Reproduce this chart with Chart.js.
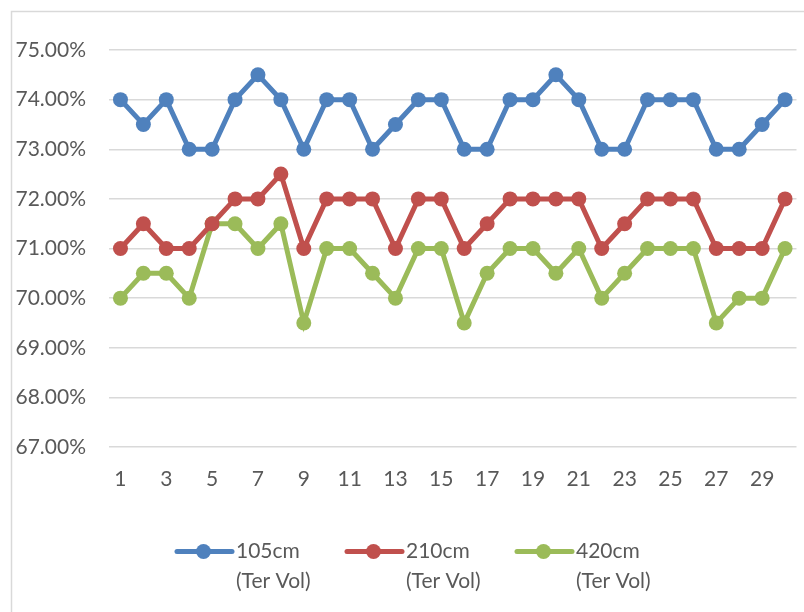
<!DOCTYPE html>
<html>
<head>
<meta charset="utf-8">
<title>Ter Vol</title>
<script src="https://cdn.jsdelivr.net/npm/chart.js@4/dist/chart.umd.min.js"></script>
<style>
  html, body { margin: 0; padding: 0; background: #fff; }
  canvas { display: block; }
</style>
</head>
<body>
<canvas id="terVolChart" width="804" height="612"></canvas>
<script>
// Meetpunten 1..30
const days = Array.from({ length: 30 }, (_, i) => String(i + 1));

// Waarden in procenten
const vol105 = [74, 73.5, 74, 73, 73, 74, 74.5, 74, 73, 74, 74, 73, 73.5, 74, 74,
                73, 73, 74, 74, 74.5, 74, 73, 73, 74, 74, 74, 73, 73, 73.5, 74];
const vol210 = [71, 71.5, 71, 71, 71.5, 72, 72, 72.5, 71, 72, 72, 72, 71, 72, 72,
                71, 71.5, 72, 72, 72, 72, 71, 71.5, 72, 72, 72, 71, 71, 71, 72];
const vol420 = [70, 70.5, 70.5, 70, 71.5, 71.5, 71, 71.5, 69.5, 71, 71, 70.5, 70, 71, 71,
                69.5, 70.5, 71, 71, 70.5, 71, 70, 70.5, 71, 71, 71, 69.5, 70, 70, 71];

const seriesNames = [['105cm', '(Ter Vol)'], ['210cm', '(Ter Vol)'], ['420cm', '(Ter Vol)']];
const seriesColors = ['#4f81bd', '#c0504d', '#9bbb59'];

const FONT = 'Lato, "Open Sans", sans-serif';
const FONT_SIZE = 21;
const TEXT_COLOR = '#595959';
const GRID_COLOR = '#d9d9d9';

// Lijst met rand rond het grafiekgebied (zoals in Excel)
const framePlugin = {
    id: 'frame',
    beforeDraw(chart) {
        const ctx = chart.ctx;
        ctx.save();
        ctx.strokeStyle = GRID_COLOR;
        ctx.lineWidth = 1.5;
        ctx.strokeRect(11.5, 11.5, 1000, 1000);
        ctx.restore();
    }
};

// Eigen legenda: lijn met punt, tekst over twee regels
const legendPlugin = {
    id: 'lineLegend',
    afterDraw(chart) {
        const ctx = chart.ctx;
        const startX = [175, 345, 515];
        const y = 551.5;
        ctx.save();
        chart.data.datasets.forEach((ds, i) => {
            const x = startX[i];
            ctx.strokeStyle = ds.borderColor;
            ctx.lineWidth = 5;
            ctx.lineCap = 'round';
            ctx.beginPath();
            ctx.moveTo(x + 2, y);
            ctx.lineTo(x + 57, y);
            ctx.stroke();
            ctx.fillStyle = ds.borderColor;
            ctx.beginPath();
            ctx.arc(x + 28.5, y, 7.5, 0, Math.PI * 2);
            ctx.fill();

            ctx.fillStyle = TEXT_COLOR;
            ctx.font = FONT_SIZE + 'px ' + FONT;
            ctx.textBaseline = 'middle';
            ctx.textAlign = 'left';
            ds.label.forEach((line, j) => ctx.fillText(line, x + 61, y + j * 30));
        });
        ctx.restore();
    }
};

const ctx = document.getElementById('terVolChart').getContext('2d');
new Chart(ctx, {
    type: 'line',
    data: {
        labels: days,
        datasets: [vol105, vol210, vol420].map((values, i) => ({
            label: seriesNames[i],
            data: values,
            borderColor: seriesColors[i],
            backgroundColor: seriesColors[i],
            borderWidth: 5,
            pointRadius: 7.5,
            pointBorderWidth: 0,
            pointHoverRadius: 7.5,
            tension: 0,
            fill: false
        }))
    },
    options: {
        responsive: false,
        animation: false,
        events: [],
        layout: { padding: { top: 50, right: 1, left: 0, bottom: 0 } },
        plugins: {
            legend: { display: false },
            tooltip: { enabled: false }
        },
        scales: {
            x: {
                offset: true,
                grid: { display: false },
                border: { display: false },
                ticks: {
                    autoSkip: false,
                    maxRotation: 0,
                    padding: 12,
                    color: TEXT_COLOR,
                    font: { family: FONT, size: FONT_SIZE },
                    callback: (value, index) => (index % 2 === 0 ? days[index] : '')
                },
                afterFit: (scale) => { scale.height = 165; }
            },
            y: {
                min: 67,
                max: 75,
                grid: { color: GRID_COLOR, lineWidth: 1.5, drawTicks: false },
                border: { display: false },
                ticks: {
                    stepSize: 1,
                    padding: 23,
                    color: TEXT_COLOR,
                    font: { family: FONT, size: FONT_SIZE },
                    callback: (value) => value.toFixed(2) + '%'
                },
                afterFit: (scale) => { scale.width = 109; }
            }
        }
    },
    plugins: [framePlugin, legendPlugin]
});
</script>
</body>
</html>
